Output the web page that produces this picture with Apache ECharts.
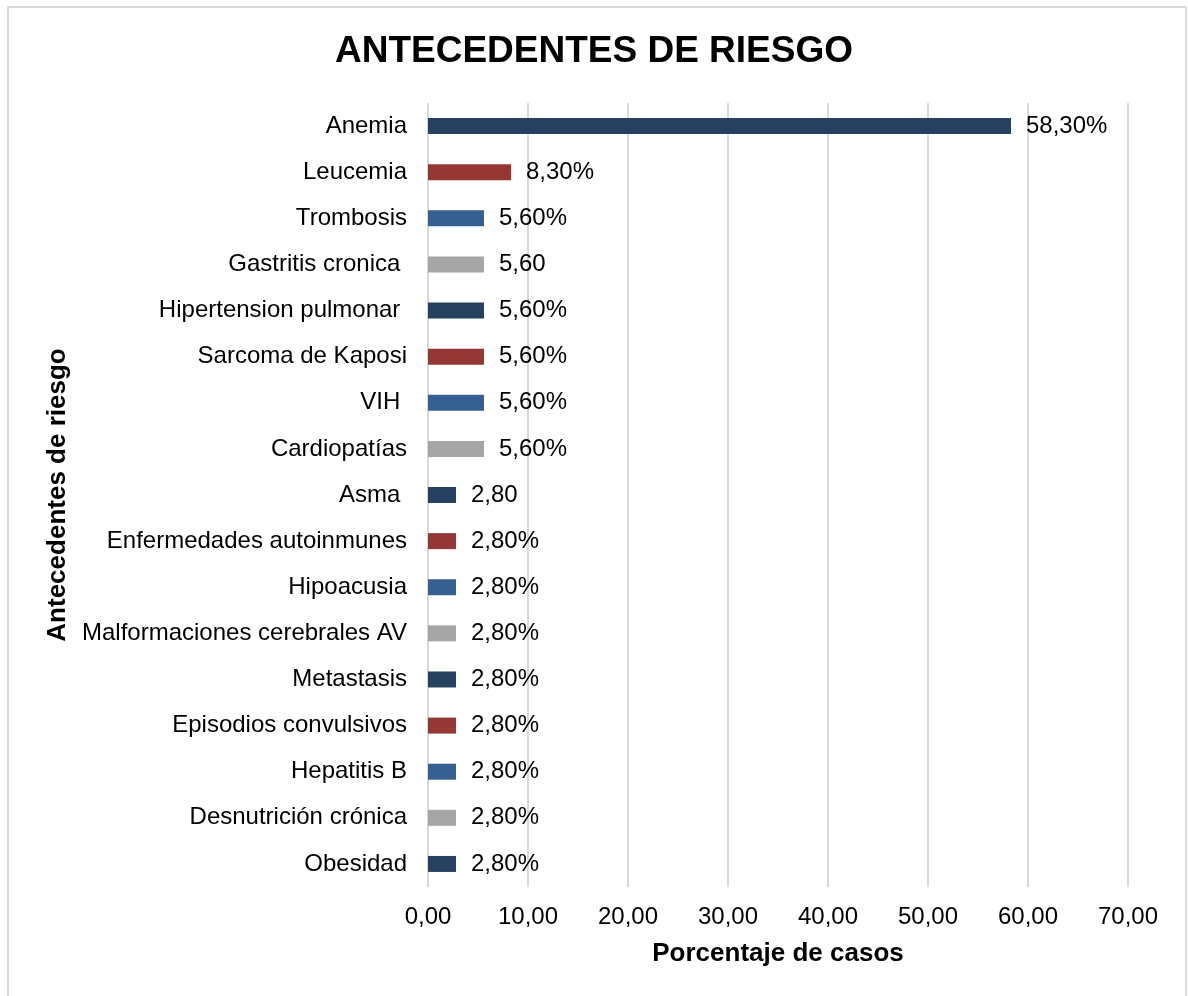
<html>
<head>
	<meta charset="utf-8">
	<script src="https://cdn.jsdelivr.net/npm/echarts@6/dist/echarts.min.js"></script>
	<style>
		body { margin:0; background:#fff; }
		#chart_1 { width:1188px; height:996px; }
	</style>
</head>
<body>
<div id="chart_1"></div>
<script>
	// datos del grafico
	var categorias = ["Anemia","Leucemia","Trombosis","Gastritis cronica ","Hipertension pulmonar ","Sarcoma de Kaposi","VIH ","Cardiopatías","Asma ","Enfermedades autoinmunes","Hipoacusia","Malformaciones cerebrales AV","Metastasis","Episodios convulsivos","Hepatitis B","Desnutrición crónica","Obesidad"];
	var valores = [58.3, 8.3, 5.6, 5.6, 5.6, 5.6, 5.6, 5.6, 2.8, 2.8, 2.8, 2.8, 2.8, 2.8, 2.8, 2.8, 2.8];
	var etiquetas = ["58,30%","8,30%","5,60%","5,60","5,60%","5,60%","5,60%","5,60%","2,80","2,80%","2,80%","2,80%","2,80%","2,80%","2,80%","2,80%","2,80%"];
	var colores = ["#264060","#953735","#376092","#a6a6a6"];

	var myChart = echarts.init(document.getElementById('chart_1'));
	var datos = [];
	for (var i = 0; i < valores.length; i++) {
		datos.push({
			value: valores[i],
			itemStyle: { color: colores[i % 4] }
		});
	}
	var option = {
		animation: false,
		textStyle: { fontFamily: 'Liberation Sans, Arial, sans-serif' },
		title: {
			text: 'ANTECEDENTES DE RIESGO',
			left: 'center',
			top: 28,
			textStyle: { fontSize: 37, fontWeight: 'bold', color: '#000' }
		},
		graphic: [{
			type: 'rect',
			shape: { x: 8, y: 7, width: 1178, height: 1000 },
			style: { fill: 'none', stroke: '#d9d9d9', lineWidth: 2 },
			silent: true
		}],
		grid: { left: 428, right: 60, top: 103, bottom: 109 },
		xAxis: {
			type: 'value',
			min: 0,
			max: 70,
			interval: 10,
			name: 'Porcentaje de casos',
			nameLocation: 'middle',
			nameGap: 54,
			nameTextStyle: { fontSize: 26, fontWeight: 'bold', color: '#000' },
			axisLine: { show: false },
			axisTick: { show: false },
			axisLabel: {
				fontSize: 24, color: '#000', margin: 18,
				formatter: function (v) { return v.toFixed(2).replace('.', ','); }
			},
			splitLine: { show: true, lineStyle: { color: '#d9d9d9', width: 2 } }
		},
		yAxis: {
			type: 'category',
			inverse: true,
			data: categorias,
			name: 'Antecedentes de riesgo',
			nameLocation: 'middle',
			nameGap: 353,
			nameTextStyle: { fontSize: 26, fontWeight: 'bold', color: '#000' },
			axisLine: { show: false },
			axisTick: { show: false },
			axisLabel: { fontSize: 24, color: '#000', margin: 21, padding: [3, 0, 0, 0] }
		},
		series: [{
			type: 'bar',
			barWidth: 16,
			data: datos,
			label: {
				show: true,
				position: 'right',
				distance: 15,
				fontSize: 24,
				color: '#000',
				padding: [3, 0, 0, 0],
				formatter: function (p) { return etiquetas[p.dataIndex]; }
			}
		}]
	};
	myChart.setOption(option);
</script>
</body>
</html>
